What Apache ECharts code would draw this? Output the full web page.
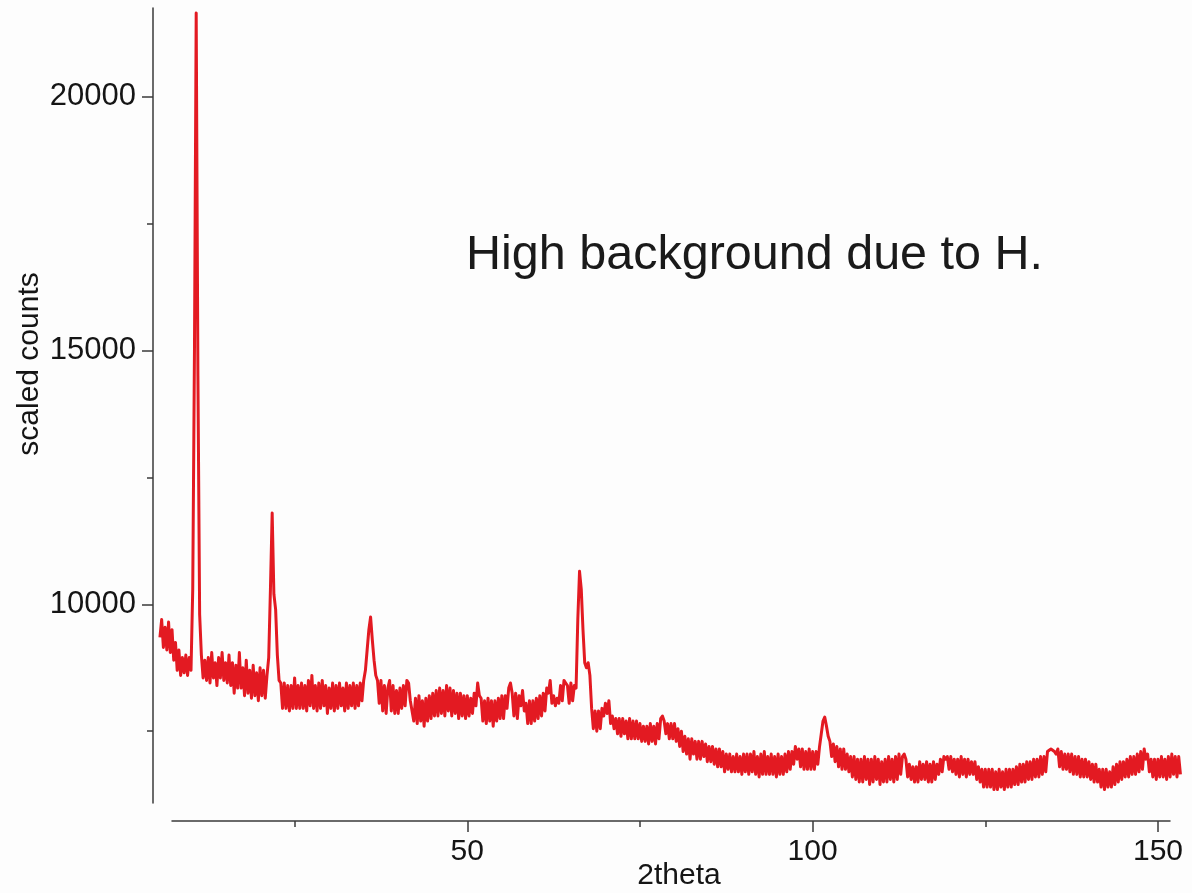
<!DOCTYPE html>
<html>
<head>
<meta charset="utf-8">
<script src="https://cdn.jsdelivr.net/npm/echarts@6/dist/echarts.min.js"></script>
<style>
  html, body { margin: 0; padding: 0; background: #fdfdfd; }
  #chart { width: 1192px; height: 893px; }
</style>
</head>
<body>
<div id="chart"></div>
<script>
// 2theta sampling grid
const thetaStart = 5.5;
const thetaStep = 0.25;

// scaled counts (one row = 5 degrees)
const counts = [
  9350,9700,9150,9550,9100,9650,9050,9500,8900,9250,8700,9100,8600,8950,8650,9000,8600,8950,8700,10300,
  15000,21650,14500,9800,9000,8550,8900,8500,8950,8450,9050,8550,8850,8400,8950,8550,9050,8500,8850,8450,
  9000,8400,8850,8250,8800,8350,9050,8350,8750,8200,8900,8250,8700,8150,8800,8200,8650,8100,8750,8200,
  8700,8150,8600,8950,10300,11800,10200,9900,9000,8500,8450,7950,8450,7950,8400,7900,8400,7950,8550,7950,
  8400,7950,8450,7950,8400,7900,8500,8000,8600,7950,8400,7900,8450,7950,8500,8000,8400,7850,8350,7950,
  8450,7900,8400,7950,8450,8000,8350,7900,8450,7950,8400,8000,8450,7950,8400,8000,8450,8100,8500,8700,
  9100,9500,9750,9300,8900,8600,8500,8050,8500,7900,8400,7850,8350,8500,7900,8400,7850,8300,7850,8350,
  7950,8400,8000,8500,8450,8100,8100,7700,8150,7650,8200,7700,8100,7600,8150,7700,8200,7750,8250,7800,
  8300,7800,8350,7850,8300,7800,8400,7900,8350,7800,8300,7850,8250,7750,8250,7800,8200,7750,8200,7800,
  8150,7850,8250,8000,8450,8200,8150,7700,8100,7650,8150,7700,8100,7600,8100,7700,8150,7750,8200,7750,
  8200,7950,8350,8450,8250,7800,8250,7750,8200,8000,8300,7900,8050,7650,8100,7650,8100,7700,8150,7750,
  8200,7800,8250,7900,8350,8250,8500,8050,8200,8000,8150,8050,8400,8100,8500,8450,8400,8050,8450,8100,
  8400,8350,9700,10650,10300,9500,8850,8750,8850,8600,7950,7550,7900,7500,7900,7550,7950,7800,8050,7850,
  8100,7650,7800,7550,7750,7450,7750,7400,7750,7450,7700,7350,7750,7350,7700,7350,7700,7350,7650,7300,
  7600,7300,7600,7250,7650,7300,7600,7250,7650,7350,7750,7800,7700,7450,7650,7350,7650,7350,7650,7300,
  7550,7200,7500,7100,7400,7050,7350,6950,7350,7050,7300,6950,7300,6950,7300,7000,7250,6900,7200,6900,
  7200,6850,7150,6800,7150,6800,7100,6700,7050,6750,7050,6700,7000,6700,7050,6700,7000,6650,7050,6700,
  7050,6650,7050,6700,7100,6650,7000,6600,7050,6650,7100,6650,7000,6650,7050,6650,7000,6600,7050,6650,
  7000,6650,7050,6700,7100,6750,7100,6850,7200,6950,7150,6800,7150,6750,7100,6750,7150,6750,7100,6750,
  7100,6850,7200,7450,7700,7780,7600,7400,7300,7000,7250,6900,7200,6800,7150,6750,7150,6750,7050,6700,
  7000,6600,7000,6550,6950,6500,6950,6500,7000,6550,6950,6450,6950,6500,7000,6550,6950,6450,6900,6500,
  6950,6500,7000,6550,6950,6500,7000,6550,7050,6650,7000,7050,6950,6600,6850,6550,6800,6500,6800,6500,
  6900,6550,6850,6550,6900,6500,6850,6500,6900,6550,6850,6650,6950,6700,7000,6950,7000,6750,7000,6700,
  6950,6650,6950,6600,7000,6650,6950,6600,6950,6650,6900,6650,6900,6550,6800,6500,6750,6400,6750,6400,
  6750,6400,6750,6350,6700,6350,6750,6400,6700,6350,6750,6400,6750,6400,6750,6450,6800,6450,6850,6500,
  6850,6500,6900,6550,6900,6550,6950,6600,6950,6600,7000,6650,7000,6700,7100,7100,7150,7150,7100,7050,
  7150,6800,7100,6750,7050,6750,7050,6700,7050,6650,7000,6650,7000,6600,6950,6600,6950,6600,6900,6550,
  6850,6500,6850,6500,6750,6400,6750,6350,6750,6400,6700,6400,6800,6450,6850,6500,6900,6550,6900,6600,
  6950,6600,7000,6650,7000,6650,7050,6700,7100,6750,7150,6950,7050,6700,6950,6600,6950,6550,6950,6600,
  7000,6600,6950,6550,7000,6600,7050,6650,7000,6600,7000,6650
];

const xMajorTicks = [50, 100, 150];
const xMinorTicks = [25, 75, 125];
const yMajorTicks = [10000, 15000, 20000];
const yMinorTicks = [7500, 12500, 17500];

const xAxisTitle = '2theta';
const yAxisTitle = 'scaled counts';
const noteText = 'High background due to H.';

const seriesData = counts.map((c, i) => [thetaStart + i * thetaStep, c]);

const FONT = '"Liberation Sans", Arial, sans-serif';
const AXIS_COLOR = '#3a3a3a';
const TEXT_COLOR = '#151515';
const plain = v => String(v);

const chart = echarts.init(document.getElementById('chart'), null, { renderer: 'canvas' });

const dataGrid = { left: 160, right: 11, top: 8, bottom: 90 };
const xGrid = { left: 172, right: 22, top: 8, bottom: 72 };

chart.setOption({
  backgroundColor: '#fdfdfd',
  animation: false,
  grid: [
    Object.assign({}, dataGrid),
    Object.assign({}, dataGrid),
    Object.assign({}, xGrid),
    Object.assign({}, xGrid)
  ],
  xAxis: [
    { type: 'value', gridIndex: 0, min: 5.51, max: 153.33, show: false },
    { type: 'value', gridIndex: 1, min: 5.51, max: 153.33, show: false },
    {
      type: 'value', gridIndex: 2, min: 7.25, max: 151.74,
      axisLine: { show: true, lineStyle: { color: AXIS_COLOR, width: 1.5 } },
      axisTick: { show: true, customValues: xMajorTicks, length: 11, lineStyle: { color: AXIS_COLOR, width: 1.5 } },
      axisLabel: { show: true, customValues: xMajorTicks, formatter: plain, margin: 16, fontSize: 30, fontFamily: FONT, color: TEXT_COLOR },
      splitLine: { show: false }
    },
    {
      type: 'value', gridIndex: 3, min: 7.25, max: 151.74,
      axisLine: { show: false },
      axisTick: { show: true, customValues: xMinorTicks, length: 6, lineStyle: { color: AXIS_COLOR, width: 1.5 } },
      axisLabel: { show: false },
      splitLine: { show: false }
    }
  ],
  yAxis: [
    {
      type: 'value', gridIndex: 0, min: 6086, max: 21747, offset: 7,
      axisLine: { show: true, lineStyle: { color: AXIS_COLOR, width: 1.5 } },
      axisTick: { show: true, customValues: yMajorTicks, length: 11, lineStyle: { color: AXIS_COLOR, width: 1.5 } },
      axisLabel: { show: true, customValues: yMajorTicks, formatter: plain, margin: 17, fontSize: 31, fontFamily: FONT, color: TEXT_COLOR },
      splitLine: { show: false }
    },
    {
      type: 'value', gridIndex: 1, min: 6086, max: 21747, offset: 7,
      axisLine: { show: false },
      axisTick: { show: true, customValues: yMinorTicks, length: 6, lineStyle: { color: AXIS_COLOR, width: 1.5 } },
      axisLabel: { show: false },
      splitLine: { show: false }
    },
    { type: 'value', gridIndex: 2, show: false },
    { type: 'value', gridIndex: 3, show: false }
  ],
  graphic: [
    {
      type: 'text', x: 679, y: 876,
      style: { text: xAxisTitle, font: '30px ' + FONT, fill: TEXT_COLOR, textAlign: 'center', textVerticalAlign: 'middle' }
    },
    {
      type: 'text', x: 30, y: 364, rotation: Math.PI / 2,
      style: { text: yAxisTitle, font: '30px ' + FONT, fill: TEXT_COLOR, textAlign: 'center', textVerticalAlign: 'middle' }
    },
    {
      type: 'text', x: 466, y: 256,
      style: { text: noteText, font: '48.5px ' + FONT, fill: '#1a1a1a', textAlign: 'left', textVerticalAlign: 'middle' }
    }
  ],
  series: [
    {
      type: 'line',
      xAxisIndex: 0,
      yAxisIndex: 0,
      data: seriesData,
      showSymbol: false,
      symbol: 'none',
      sampling: false,
      lineStyle: { color: '#e31a22', width: 3, join: 'round' },
      z: 3
    }
  ]
});
</script>
</body>
</html>
